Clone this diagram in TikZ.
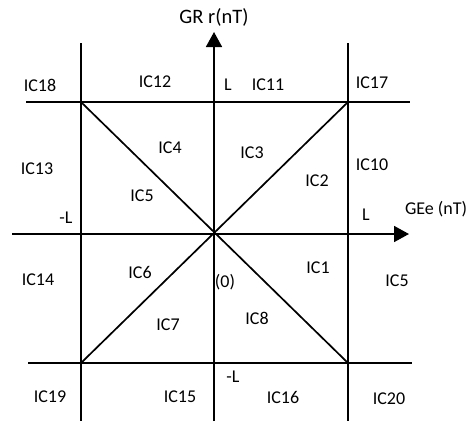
\documentclass[tikz,border=0pt]{standalone}
\usepackage{fontspec}
\setmainfont{Carlito}
\usetikzlibrary{arrows.meta}
\begin{document}
\begin{tikzpicture}[x=1pt,y=-1pt,
  ln/.style={line width=1.7pt, black},
  ax/.style={line width=1.7pt, black, -{Triangle[length=15pt,width=16pt]}},
  lab/.style={font=\fontsize{18}{21}\selectfont, inner sep=0pt},
  big/.style={font=\fontsize{20.5}{24}\selectfont, inner sep=0pt}]
\useasboundingbox (0,0) rectangle (472,424);
% key points
\coordinate (O) at (214,234);
\coordinate (TL) at (81,102);
\coordinate (TR) at (348,102);
\coordinate (BL) at (81,363);
\coordinate (BR) at (348,363);
\coordinate (tlx) at (26,102);
\coordinate (trx) at (410,102);
\coordinate (blx) at (28,363);
\coordinate (brx) at (412,363);
\coordinate (lvt) at (81,43);
\coordinate (lvb) at (81,421);
\coordinate (rvt) at (348,43);
\coordinate (rvb) at (348,421);
\coordinate (xl) at (12,234);
\coordinate (xr) at (409,234);
\coordinate (yb) at (214,421);
\coordinate (yt) at (214,32);
% grid lines
\draw[ln] (tlx) -- (trx);
\draw[ln] (blx) -- (brx);
\draw[ln] (lvt) -- (lvb);
\draw[ln] (rvt) -- (rvb);
% diagonals
\draw[ln] (TL) -- (BR);
\draw[ln] (BL) -- (TR);
% axes
\draw[ax] (xl) -- (xr);
\draw[ax] (yb) -- (yt);
% axis labels
\node[big] (gr) at (214,17) {GR r(nT)};
\node[lab] (ge) at (436,209) {GEe (nT)};
% labels
\node[lab] (ic18) at (40,85) {IC18};
\node[lab] (ic12) at (155,82) {IC12};
\node[lab] (Lt) at (228,85) {L};
\node[lab] (ic11) at (268,85) {IC11};
\node[lab] (ic17) at (372,83) {IC17};
\node[lab] (ic4) at (170,148) {IC4};
\node[lab] (ic3) at (252,153) {IC3};
\node[lab] (ic2) at (317,181) {IC2};
\node[lab] (ic13) at (37,169) {IC13};
\node[lab] (ic10) at (372,165) {IC10};
\node[lab] (ic5a) at (142,196) {IC5};
\node[lab] (mLl) at (66,218) {-L};
\node[lab] (Lr) at (366,215) {L};
\node[lab] (ic14) at (38,280) {IC14};
\node[lab] (ic6) at (140,272) {IC6};
\node[lab] (zero) at (225,282) {(0)};
\node[lab] (ic1) at (318,268) {IC1};
\node[lab] (ic5b) at (397,281) {IC5};
\node[lab] (ic7) at (168,325) {IC7};
\node[lab] (ic8) at (257,318) {IC8};
\node[lab] (mLb) at (233,377) {-L};
\node[lab] (ic19) at (50,397) {IC19};
\node[lab] (ic15) at (180,397) {IC15};
\node[lab] (ic16) at (283,397) {IC16};
\node[lab] (ic20) at (389,399) {IC20};
\end{tikzpicture}
\end{document}
